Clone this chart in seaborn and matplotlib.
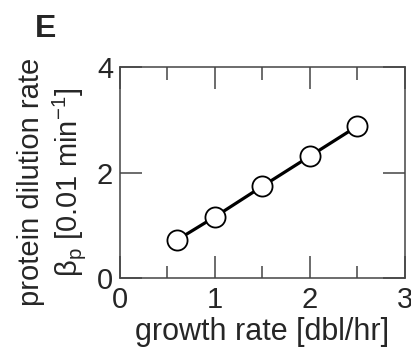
import matplotlib
matplotlib.use("Agg")
import matplotlib.pyplot as plt
import seaborn as sns
import pandas as pd
from matplotlib.ticker import MultipleLocator

# data
growth_rate = [0.6, 1.0, 1.5, 2.0, 2.5]
dilution_rate = [0.72, 1.16, 1.74, 2.31, 2.88]

df = pd.DataFrame({'growth': growth_rate, 'dilution': dilution_rate})

sns.set_style('ticks')
plt.rcParams['font.family'] = ['Liberation Sans', 'DejaVu Sans']
plt.rcParams['mathtext.fontset'] = 'custom'
plt.rcParams['mathtext.rm'] = 'Liberation Sans'
plt.rcParams['mathtext.it'] = 'Liberation Sans:italic'

fig = plt.figure(figsize=(4.11, 3.51), dpi=100)
ax = fig.add_axes([0.292, 0.208, 0.693, 0.601])

sns.lineplot(data=df, x='growth', y='dilution', ax=ax, color='black',
             linewidth=2.3, marker='o', markersize=14.5, markerfacecolor='white',
             markeredgecolor='black', markeredgewidth=1.3)

ax.set_xlim(0, 3)
ax.set_ylim(0, 4)
ax.xaxis.set_major_locator(MultipleLocator(1))
ax.xaxis.set_minor_locator(MultipleLocator(0.5))
ax.yaxis.set_major_locator(MultipleLocator(2))
ax.tick_params(which='both', direction='in', top=True, right=True,
               color='#444444', width=1.1, labelsize=21)
ax.tick_params(axis='x', which='major', pad=6)
ax.tick_params(axis='y', which='major', pad=5)
ax.tick_params(which='major', length=16)
ax.tick_params(which='minor', length=9)
for s in ax.spines.values():
    s.set_color('#444444')
    s.set_linewidth(1.1)

ax.set_xlabel('growth rate [dbl/hr]', fontsize=22, labelpad=2)
ax.set_ylabel('protein dilution rate\nβ$_\\mathrm{p}$ [0.01 min$^{-1}$]',
              fontsize=21, linespacing=1.2)
ax.yaxis.set_label_coords(-0.112, 0.455)

fig.text(0.085, 1 - 37 / 351, 'E', fontsize=23, fontweight='bold',
         ha='left', va='baseline')

fig.savefig('out.png', dpi=100)
